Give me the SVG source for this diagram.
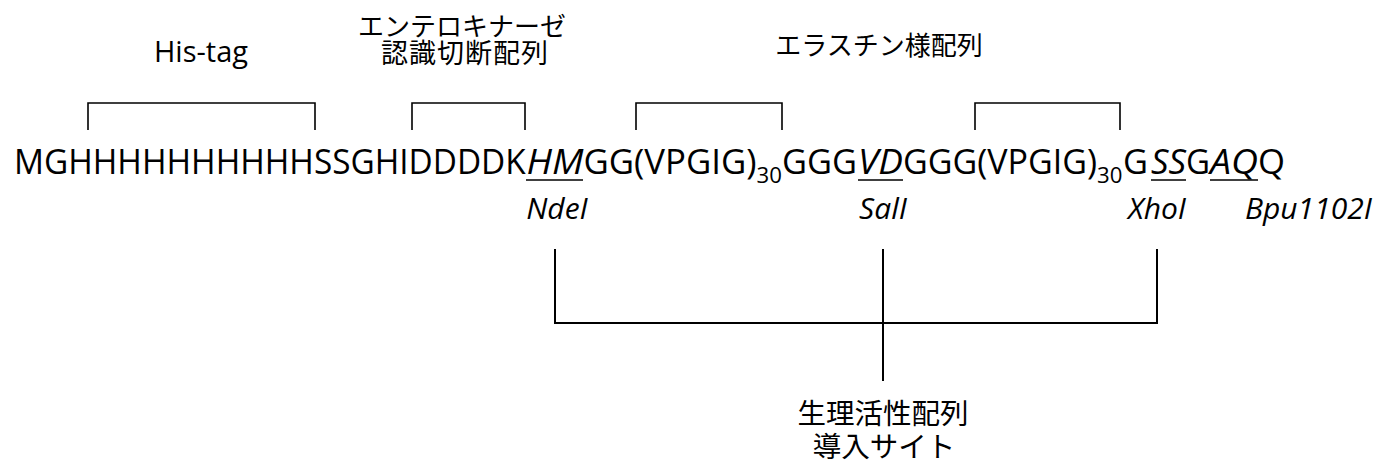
<svg xmlns="http://www.w3.org/2000/svg" width="1392" height="464" viewBox="0 0 1392 464">
<style>
.seq{font-family:"Open Sans","Liberation Sans",sans-serif;font-size:34px;fill:#000}
.it{font-style:italic}
.sub{font-family:"Open Sans","Liberation Sans",sans-serif;font-size:22px;fill:#000}
.lab{font-family:"Open Sans","Liberation Sans",sans-serif;font-size:30px;font-style:italic;fill:#000}
.tag{font-family:"Open Sans","Liberation Sans",sans-serif;font-size:29px;fill:#000}
.jp{font-family:"Noto Sans CJK JP","Noto Sans",sans-serif;font-size:26px;fill:#000}
.jp2{font-family:"Noto Sans CJK JP","Noto Sans",sans-serif;font-size:28.5px;fill:#000}
.br{fill:none;stroke:#000;stroke-width:1.6}
.ln{fill:none;stroke:#000;stroke-width:2}
.ul{stroke:#000;stroke-width:1.5}
</style>
<rect width="1392" height="464" fill="#fff"/>
<g id="sequence">
<text class="seq" x="14" y="174" textLength="511.7" lengthAdjust="spacingAndGlyphs">MGHHHHHHHHHHSSGHIDDDDK</text>
<text class="seq it" x="526.5" y="174" textLength="57" lengthAdjust="spacingAndGlyphs">HM</text>
<text class="seq" x="583.5" y="174" textLength="173" lengthAdjust="spacingAndGlyphs">GG(VPGIG)</text>
<text class="sub" x="756.5" y="183" textLength="25.4" lengthAdjust="spacingAndGlyphs">30</text>
<text class="seq" x="782" y="174" textLength="75" lengthAdjust="spacingAndGlyphs">GGG</text>
<text class="seq it" x="858" y="174" textLength="45" lengthAdjust="spacingAndGlyphs">VD</text>
<text class="seq" x="903" y="174" textLength="194" lengthAdjust="spacingAndGlyphs">GGG(VPGIG)</text>
<text class="sub" x="1097" y="183" textLength="25.4" lengthAdjust="spacingAndGlyphs">30</text>
<text class="seq" x="1123" y="174" textLength="25" lengthAdjust="spacingAndGlyphs">G</text>
<text class="seq it" x="1151" y="174" textLength="35" lengthAdjust="spacingAndGlyphs">SS</text>
<text class="seq" x="1186" y="174" textLength="24" lengthAdjust="spacingAndGlyphs">G</text>
<text class="seq it" x="1210" y="174" textLength="48" lengthAdjust="spacingAndGlyphs">AQ</text>
<text class="seq" x="1258" y="174" textLength="27" lengthAdjust="spacingAndGlyphs">Q</text>
<line class="ul" x1="526" y1="180" x2="583" y2="180"/>
<line class="ul" x1="858" y1="180" x2="903" y2="180"/>
<line class="ul" x1="1151" y1="180" x2="1186" y2="180"/>
<line class="ul" x1="1210" y1="180" x2="1258" y2="180"/>
</g>
<g id="his-tag">
<text class="tag" x="201" y="62" text-anchor="middle">His-tag</text>
<path class="br" d="M88 130 V103 H315 V130"/>
</g>
<g id="enterokinase">
<text class="jp" x="462" y="36" text-anchor="middle">エンテロキナーゼ</text>
<text class="jp" x="465" y="63" text-anchor="middle" style="font-size:27px;letter-spacing:1px">認識切断配列</text>
<path class="br" d="M412 130 V103 H525 V130"/>
</g>
<g id="elastin">
<text class="jp" x="879" y="55" text-anchor="middle">エラスチン様配列</text>
<path class="br" d="M636 130 V103 H782 V130"/>
<path class="br" d="M975 130 V103 H1120 V130"/>
</g>
<g id="NdeI"><text class="lab" x="557" y="219" text-anchor="middle">NdeI</text></g>
<g id="SalI"><text class="lab" x="883" y="219" text-anchor="middle">SalI</text></g>
<g id="XhoI"><text class="lab" x="1157" y="219" text-anchor="middle">XhoI</text></g>
<g id="Bpu1102I"><text class="lab" x="1245" y="219">Bpu1102I</text></g>
<g id="connectors">
<path class="ln" d="M555 249 V323 H1157 V249"/>
<path class="ln" d="M883 249 V381"/>
</g>
<g id="insertion-site">
<text class="jp2" x="883" y="424" text-anchor="middle">生理活性配列</text>
<text class="jp2" x="884" y="457" text-anchor="middle">導入サイト</text>
</g>
</svg>
